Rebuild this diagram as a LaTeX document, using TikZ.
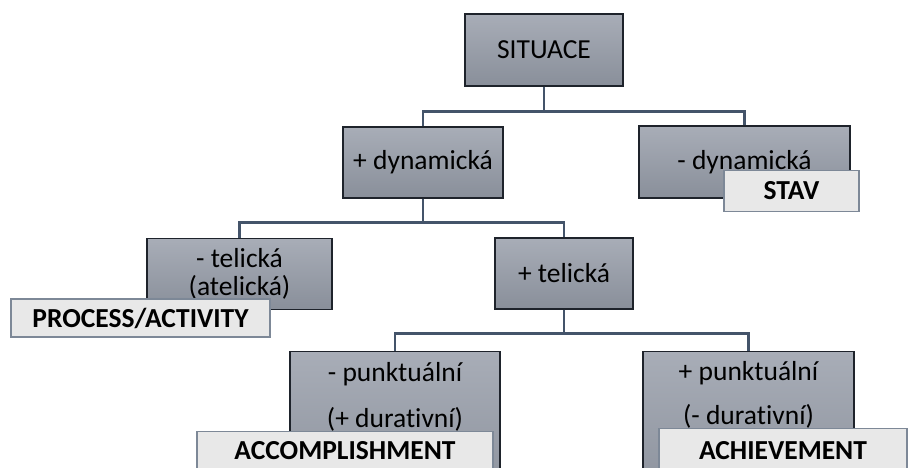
\documentclass[tikz,border=0pt]{standalone}
\usepackage{fontspec}
\setmainfont{Carlito}[Ligatures=NoCommon]
\usepackage{tikz}
\definecolor{boxtop}{HTML}{A8ADB7}
\definecolor{boxbot}{HTML}{898F9A}
\definecolor{boxline}{HTML}{1E232B}
\definecolor{tagfill}{HTML}{E8E8E8}
\definecolor{tagline}{HTML}{7D8897}
\definecolor{linkcol}{HTML}{44546A}
\tikzset{
  featbox/.style={draw=boxline, line width=1.2pt, top color=boxtop, bottom color=boxbot,
    inner sep=0pt, align=center, font=\fontsize{27.5}{28}\selectfont},
  classbox/.style={draw=tagline, line width=1.2pt, fill=tagfill, inner sep=0pt,
    font=\bfseries\fontsize{27.5}{28}\selectfont},
  link/.style={draw=linkcol, line width=2.4pt}
}

\begin{document}
\begin{tikzpicture}[x=1pt,y=-1pt]
  \clip (0,0) rectangle (923,468);
  \node[featbox, minimum width=158, minimum height=72] at (544,50) (sit) {SITUACE};
  \node[featbox, minimum width=160, minimum height=71] at (423,162.5) (dyn) {+ dynamická};
  \node[featbox, minimum width=211, minimum height=72] at (744.5,162) (ndyn) {- dynamická};
  \node[featbox, anchor=north, minimum width=185, text height=57, text depth=14] at (239.5,238) (ntel) {- telická\\(atelická)};
  \node[featbox, minimum width=138, minimum height=71] at (564,273.5) (tel) {+ telická};
  \node[featbox, anchor=north, minimum width=210, text height=76, text depth=90] at (395,351) (npun) {- punktuální\\[18pt](+ durativní)};
  \node[featbox, anchor=north, minimum width=211, text height=73, text depth=90] at (748.5,351) (pun) {+ punktuální\\[16pt](- durativní)};

  \node[classbox, minimum width=135, minimum height=41] at (791.5,191) (stav) {STAV};
  \node[classbox, minimum width=259, minimum height=38] at (140.5,318) (proc) {PROCESS/ACTIVITY};
  \node[classbox, anchor=north, minimum width=296, text height=28, text depth=30] at (345,431) (acc) {ACCOMPLISHMENT};
  \node[classbox, anchor=north, minimum width=248, text height=31, text depth=30] at (783,428) (ach) {ACHIEVEMENT};

  \draw[link] (sit.south) -- ++(0,25) -| (dyn.north);
  \draw[link] (sit.south) -- ++(0,25) -| (ndyn.north);
  \draw[link] (dyn.south) -- ++(0,24) -| (ntel.north);
  \draw[link] (dyn.south) -- ++(0,24) -| (tel.north);
  \draw[link] (tel.south) -- ++(0,24) -| (npun.north);
  \draw[link] (tel.south) -- ++(0,24) -| (pun.north);
\end{tikzpicture}
\end{document}
